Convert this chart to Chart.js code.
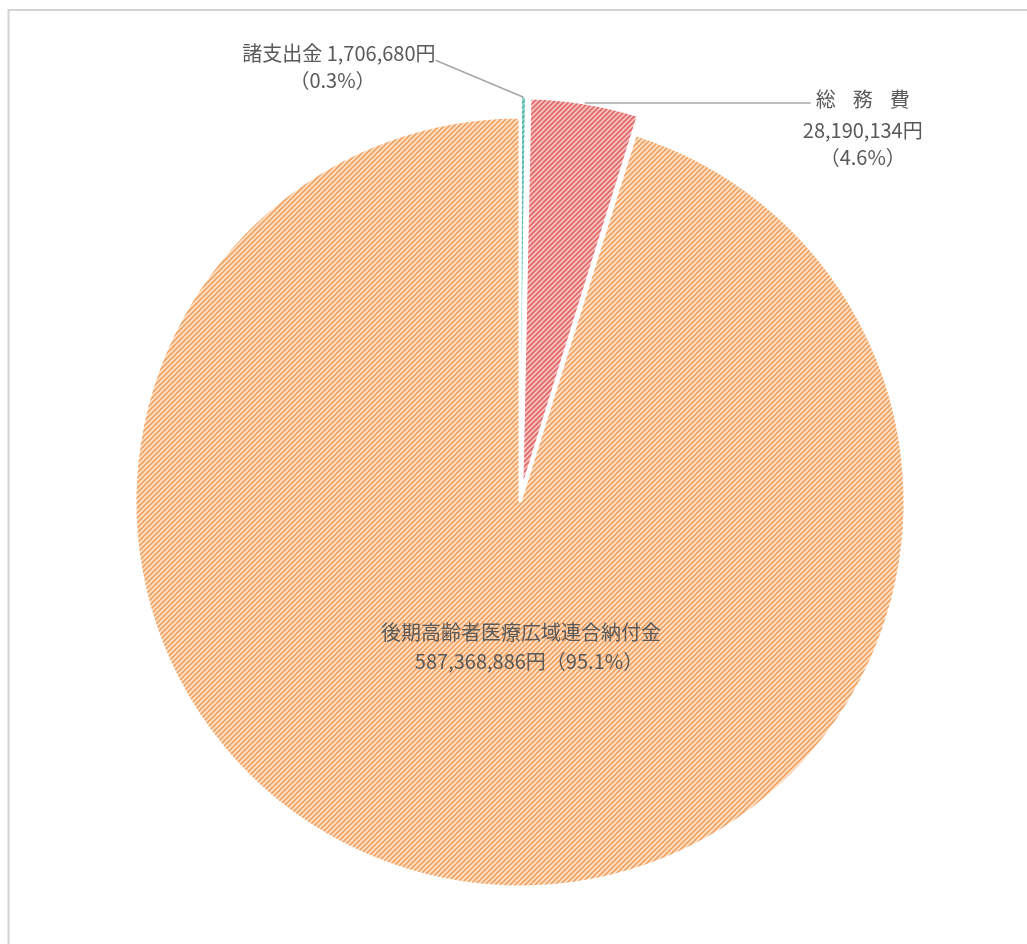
<!DOCTYPE html>
<html lang="ja">
<head>
<meta charset="utf-8">
<title>歳出構成</title>
<script src="https://cdn.jsdelivr.net/npm/chart.js@4/dist/chart.umd.min.js"></script>
<style>
  html, body { margin: 0; padding: 0; background: #fff; overflow: hidden; }
  canvas { display: block; }
</style>
</head>
<body>
<canvas id="chart" width="1027" height="944"></canvas>
<script>
// Expenditure breakdown (yen)
const categories = ['諸支出金', '総務費', '後期高齢者医療広域連合納付金'];
const amounts = [1706680, 28190134, 587368886];
const shareLabels = ['0.3%', '4.6%', '95.1%'];
// exploded slices (Chart.js arc offset)
const explode = [40, 45, 0];

const FONT = '"Noto Sans CJK JP", "Noto Sans", sans-serif';
const TEXT = '#595959';

function yen(v) { return v.toLocaleString('ja-JP') + '円'; }

// diagonal "/" hatch fill
function hatch(bg, fg, size, lw) {
  const c = document.createElement('canvas');
  c.width = size; c.height = size;
  const g = c.getContext('2d');
  g.fillStyle = bg;
  g.fillRect(0, 0, size, size);
  g.strokeStyle = fg;
  g.lineWidth = lw;
  g.beginPath();
  for (let k = 0; k <= 2; k++) {
    const s = k * size;
    g.moveTo(s + 1, -1);
    g.lineTo(-1, s + 1);
  }
  g.stroke();
  return g.createPattern(c, 'repeat');
}

const fills = [
  hatch('#9ED9D2', '#3FB0A4', 5, 1.6),
  hatch('#F8CACA', '#E15F5F', 5, 1.6),
  hatch('#FDE2C8', '#F2A160', 5, 1.6)
];

// outer point of a slice along its mid angle, following ArcElement's offset drawing
function outerPoint(arc) {
  const p = arc.getProps(['x', 'y', 'startAngle', 'endAngle', 'outerRadius'], true);
  const off = (arc.options.offset || 0) / 4;
  const mid = (p.startAngle + p.endAngle) / 2;
  const circ = p.endAngle - p.startAngle;
  const fix = 1 - Math.sin(Math.min(Math.PI, circ));
  const r = p.outerRadius + off * fix + off;
  return { x: p.x + Math.cos(mid) * r, y: p.y + Math.sin(mid) * r };
}

const frame = {
  id: 'frame',
  beforeDraw(chart) {
    const ctx = chart.ctx;
    ctx.save();
    ctx.fillStyle = '#fff';
    ctx.fillRect(0, 0, chart.width, chart.height);
    ctx.strokeStyle = '#D4D4D4';
    ctx.lineWidth = 2;
    ctx.strokeRect(8.5, 10, chart.width + 20, chart.height + 20);
    ctx.restore();
  }
};

const sliceLabels = {
  id: 'sliceLabels',
  afterDatasetsDraw(chart) {
    const ctx = chart.ctx;
    const arcs = chart.getDatasetMeta(0).data;
    ctx.save();
    ctx.fillStyle = TEXT;
    ctx.strokeStyle = '#A6A6A6';
    ctx.lineWidth = 1.5;
    ctx.font = '20px ' + FONT;
    ctx.textBaseline = 'middle';

    // 諸支出金: label upper left with leader line
    const p0 = outerPoint(arcs[0]);
    const ax = p0.x - 88, ay = p0.y - 37;
    ctx.beginPath();
    ctx.moveTo(p0.x, p0.y);
    ctx.lineTo(ax, ay);
    ctx.stroke();
    ctx.textAlign = 'right';
    ctx.fillText(categories[0] + ' ' + yen(amounts[0]), ax, p0.y - 44);
    ctx.textAlign = 'center';
    ctx.fillText('（' + shareLabels[0] + '）', p0.x - 191, p0.y - 17);

    // 総務費: horizontal leader to the right
    const p1 = outerPoint(arcs[1]);
    const lx = p1.x + 226;
    ctx.beginPath();
    ctx.moveTo(p1.x, p1.y);
    ctx.lineTo(lx, p1.y);
    ctx.stroke();
    const cx1 = lx + 52;
    ctx.textAlign = 'center';
    categories[1].split('').forEach((ch, i) => {
      ctx.fillText(ch, cx1 + (i - 1) * 37, p1.y - 3);
    });
    ctx.fillText(yen(amounts[1]), cx1, p1.y + 28);
    ctx.fillText('（' + shareLabels[1] + '）', cx1, p1.y + 55);

    // 後期高齢者医療広域連合納付金: inside the slice
    const a2 = arcs[2].getProps(['x', 'y', 'outerRadius'], true);
    ctx.fillText(categories[2], a2.x + 1, a2.y + 0.34 * a2.outerRadius);
    ctx.fillText(yen(amounts[2]) + '（' + shareLabels[2] + '）', a2.x + 9, a2.y + 0.415 * a2.outerRadius);
    ctx.restore();
  }
};

new Chart(document.getElementById('chart'), {
  type: 'pie',
  data: {
    labels: categories,
    datasets: [{
      data: amounts,
      backgroundColor: fills,
      borderColor: '#ffffff',
      borderWidth: [1, 3, 3],
      offset: explode
    }]
  },
  options: {
    responsive: false,
    animation: false,
    events: [],
    radius: 385,
    layout: { padding: { left: 60, right: 47, top: 80, bottom: 20 } },
    plugins: {
      legend: { display: false },
      tooltip: { enabled: false },
      title: { display: false }
    }
  },
  plugins: [frame, sliceLabels]
});
</script>
</body>
</html>
